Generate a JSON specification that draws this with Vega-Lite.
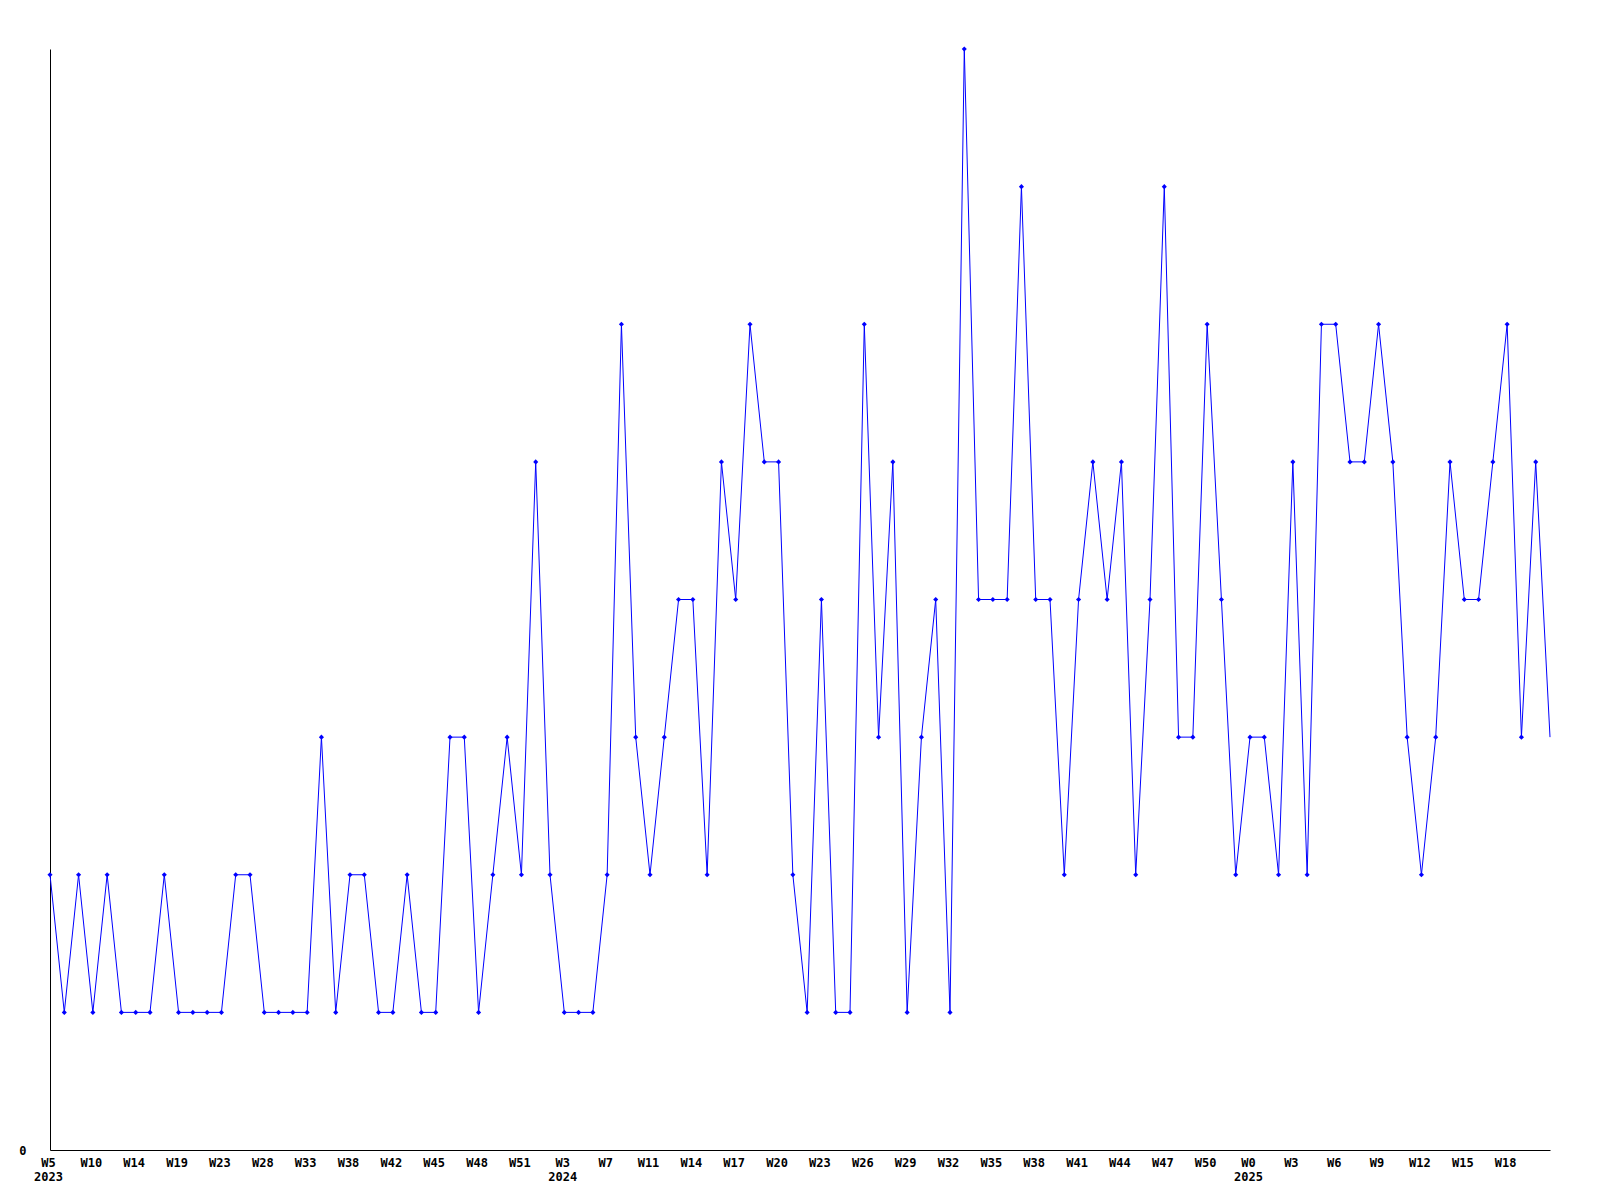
{
  "$schema": "https://vega.github.io/schema/vega-lite/v6.json",
  "autosize": "none",
  "width": 1500,
  "height": 1101,
  "padding": {"left": 50, "top": 49, "right": 50, "bottom": 50},
  "background": "white",
  "config": {"view": {"stroke": null}},
  "data": {"values": [
    {"i":0,"k":"000|W5|2023","v":2},{"i":1,"k":"001","v":1},{"i":2,"k":"002","v":2},
    {"i":3,"k":"003|W10","v":1},{"i":4,"k":"004","v":2},{"i":5,"k":"005","v":1},
    {"i":6,"k":"006|W14","v":1},{"i":7,"k":"007","v":1},{"i":8,"k":"008","v":2},
    {"i":9,"k":"009|W19","v":1},{"i":10,"k":"010","v":1},{"i":11,"k":"011","v":1},
    {"i":12,"k":"012|W23","v":1},{"i":13,"k":"013","v":2},{"i":14,"k":"014","v":2},
    {"i":15,"k":"015|W28","v":1},{"i":16,"k":"016","v":1},{"i":17,"k":"017","v":1},
    {"i":18,"k":"018|W33","v":1},{"i":19,"k":"019","v":3},{"i":20,"k":"020","v":1},
    {"i":21,"k":"021|W38","v":2},{"i":22,"k":"022","v":2},{"i":23,"k":"023","v":1},
    {"i":24,"k":"024|W42","v":1},{"i":25,"k":"025","v":2},{"i":26,"k":"026","v":1},
    {"i":27,"k":"027|W45","v":1},{"i":28,"k":"028","v":3},{"i":29,"k":"029","v":3},
    {"i":30,"k":"030|W48","v":1},{"i":31,"k":"031","v":2},{"i":32,"k":"032","v":3},
    {"i":33,"k":"033|W51","v":2},{"i":34,"k":"034","v":5},{"i":35,"k":"035","v":2},
    {"i":36,"k":"036|W3|2024","v":1},{"i":37,"k":"037","v":1},{"i":38,"k":"038","v":1},
    {"i":39,"k":"039|W7","v":2},{"i":40,"k":"040","v":6},{"i":41,"k":"041","v":3},
    {"i":42,"k":"042|W11","v":2},{"i":43,"k":"043","v":3},{"i":44,"k":"044","v":4},
    {"i":45,"k":"045|W14","v":4},{"i":46,"k":"046","v":2},{"i":47,"k":"047","v":5},
    {"i":48,"k":"048|W17","v":4},{"i":49,"k":"049","v":6},{"i":50,"k":"050","v":5},
    {"i":51,"k":"051|W20","v":5},{"i":52,"k":"052","v":2},{"i":53,"k":"053","v":1},
    {"i":54,"k":"054|W23","v":4},{"i":55,"k":"055","v":1},{"i":56,"k":"056","v":1},
    {"i":57,"k":"057|W26","v":6},{"i":58,"k":"058","v":3},{"i":59,"k":"059","v":5},
    {"i":60,"k":"060|W29","v":1},{"i":61,"k":"061","v":3},{"i":62,"k":"062","v":4},
    {"i":63,"k":"063|W32","v":1},{"i":64,"k":"064","v":8},{"i":65,"k":"065","v":4},
    {"i":66,"k":"066|W35","v":4},{"i":67,"k":"067","v":4},{"i":68,"k":"068","v":7},
    {"i":69,"k":"069|W38","v":4},{"i":70,"k":"070","v":4},{"i":71,"k":"071","v":2},
    {"i":72,"k":"072|W41","v":4},{"i":73,"k":"073","v":5},{"i":74,"k":"074","v":4},
    {"i":75,"k":"075|W44","v":5},{"i":76,"k":"076","v":2},{"i":77,"k":"077","v":4},
    {"i":78,"k":"078|W47","v":7},{"i":79,"k":"079","v":3},{"i":80,"k":"080","v":3},
    {"i":81,"k":"081|W50","v":6},{"i":82,"k":"082","v":4},{"i":83,"k":"083","v":2},
    {"i":84,"k":"084|W0|2025","v":3},{"i":85,"k":"085","v":3},{"i":86,"k":"086","v":2},
    {"i":87,"k":"087|W3","v":5},{"i":88,"k":"088","v":2},{"i":89,"k":"089","v":6},
    {"i":90,"k":"090|W6","v":6},{"i":91,"k":"091","v":5},{"i":92,"k":"092","v":5},
    {"i":93,"k":"093|W9","v":6},{"i":94,"k":"094","v":5},{"i":95,"k":"095","v":3},
    {"i":96,"k":"096|W12","v":2},{"i":97,"k":"097","v":3},{"i":98,"k":"098","v":5},
    {"i":99,"k":"099|W15","v":4},{"i":100,"k":"100","v":4},{"i":101,"k":"101","v":5},
    {"i":102,"k":"102|W18","v":6},{"i":103,"k":"103","v":3},{"i":104,"k":"104","v":5},
    {"i":105,"k":"105","v":3}
  ]},
  "encoding": {
    "x": {
      "field": "k", "type": "ordinal", "sort": null,
      "scale": {"type": "point", "padding": 0},
      "axis": {
        "title": null, "ticks": false, "grid": false,
        "domainColor": "black", "domainWidth": 1,
        "labelAngle": 0, "labelOverlap": false,
        "labelExpr": "indexof(datum.value, '|') < 0 ? '' : slice(split(datum.value, '|'), 1)",
        "labelFont": "DejaVu Sans Mono", "labelFontWeight": "bold", "labelFontSize": 12,
        "labelColor": "black", "labelPadding": 7, "labelLineHeight": 14,
        "labelBaseline": "top", "labelOffset": -2
      }
    },
    "y": {
      "field": "v", "type": "quantitative",
      "scale": {"domain": [0, 8], "nice": false, "zero": true},
      "axis": {
        "title": null, "ticks": false, "grid": false, "values": [0],
        "domainColor": "black", "domainWidth": 1,
        "labelFont": "DejaVu Sans Mono", "labelFontWeight": "bold", "labelFontSize": 12,
        "labelColor": "black", "labelPadding": 24
      }
    }
  },
  "layer": [
    {"mark": {"type": "line", "color": "#0000ff", "strokeWidth": 1}},
    {
      "transform": [{"filter": "datum.i < 105"}],
      "mark": {"type": "point", "shape": "diamond", "filled": true, "color": "#0000ff", "size": 26, "opacity": 1}
    }
  ]
}
